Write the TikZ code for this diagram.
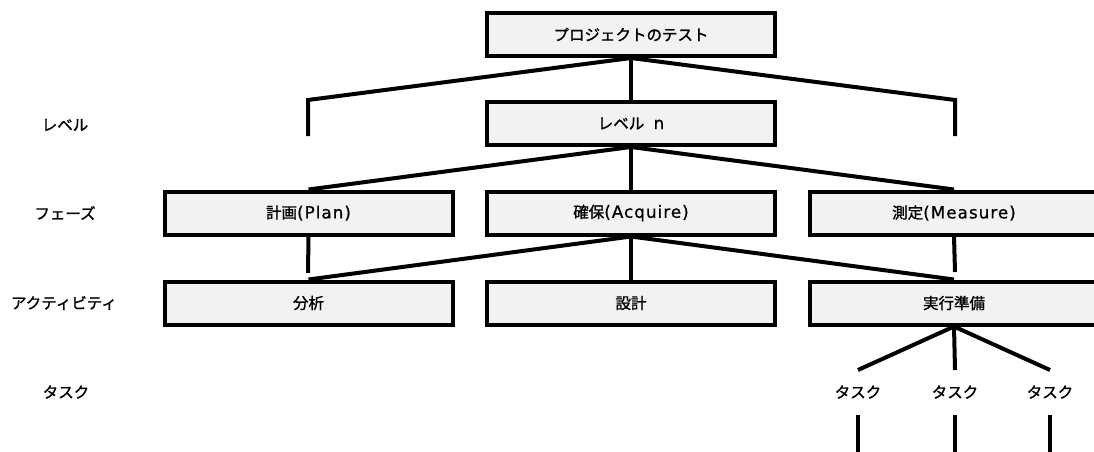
\documentclass[tikz,border=0pt]{standalone}
\usepackage{fontspec}
\setmainfont{Noto Sans CJK JP}[RawFeature={embolden=1.3}]
\newfontfamily\latf{DejaVu Sans}[LetterSpace=6,RawFeature={embolden=0.8}]
\newcommand\lt[1]{{\latf\fontsize{16.8}{18}\selectfont #1}}
\definecolor{boxgray}{HTML}{F2F2F2}
\begin{document}
\begin{tikzpicture}[x=1pt,y=-1pt,
  box/.style={draw=black, line width=4pt, fill=boxgray, minimum width=288pt, minimum height=43pt, inner sep=0pt, font=\fontsize{15.5}{18}\selectfont},
  lbl/.style={inner sep=0pt, font=\fontsize{15.5}{18}\selectfont},
  conn/.style={draw=black, line width=4pt}]
\path[use as bounding box, clip] (0,0) rectangle (1094,452);
\fill[white] (0,0) rectangle (1094,452);

% row labels
\node[lbl] (rLevel) at (65,125) {レベル};
\node[lbl] (rPhase) at (65,213) {フェーズ};
\node[lbl] (rAct) at (64,303) {アクティビティ};
\node[lbl] (rTask) at (66,392) {タスク};

% free-end coordinates
\coordinate (lvL) at (308,100);
\coordinate (lvLe) at (308,136);
\coordinate (lvR) at (955,100);
\coordinate (lvRe) at (955,136);
\coordinate (planEnd) at (308,273);
\coordinate (measEnd) at (955,272);
\coordinate (t1a) at (858,370);
\coordinate (t2a) at (955,370);
\coordinate (t3a) at (1050,370);
\coordinate (t1b) at (858,415);
\coordinate (t2b) at (955,415);
\coordinate (t3b) at (1050,415);
\coordinate (t1c) at (858,460);
\coordinate (t2c) at (955,460);
\coordinate (t3c) at (1050,460);

% boxes
\node[box] (top) at (631,34.5) {プロジェクトのテスト};
\node[box] (lev) at (631,123.5) {レベル\hspace{0.6em}\lt{n}};
\node[box] (plan) at (308.5,213) {計画\lt{(Plan)}};
\node[box] (acq) at (631,213) {確保\lt{(Acquire)}};
\node[box] (meas) at (954,213) {測定\lt{(Measure)}};
\node[box] (ana) at (308.5,303) {分析};
\node[box] (des) at (631,303) {設計};
\node[box] (prep) at (954,303) {実行準備};

% task labels
\node[lbl] (t1) at (858,392) {タスク};
\node[lbl] (t2) at (955,392) {タスク};
\node[lbl] (t3) at (1050,392) {タスク};

% connectors
\draw[conn] (top.south) -- (lev.north);
\draw[conn] (top.south) -- (lvL) -- (lvLe);
\draw[conn] (top.south) -- (lvR) -- (lvRe);
\draw[conn] (lev.south) -- (plan.north);
\draw[conn] (lev.south) -- (acq.north);
\draw[conn] (lev.south) -- (meas.north);
\draw[conn] (plan.south) -- (planEnd);
\draw[conn] (acq.south) -- (ana.north);
\draw[conn] (acq.south) -- (des.north);
\draw[conn] (acq.south) -- (prep.north);
\draw[conn] (meas.south) -- (measEnd);
\draw[conn] (prep.south) -- (t1a);
\draw[conn] (prep.south) -- (t2a);
\draw[conn] (prep.south) -- (t3a);
\draw[conn] (t1b) -- (t1c);
\draw[conn] (t2b) -- (t2c);
\draw[conn] (t3b) -- (t3c);

% redraw boxes on top so connectors meet the borders cleanly
\node[box] at (top.center) {プロジェクトのテスト};
\node[box] at (lev.center) {レベル\hspace{0.6em}\lt{n}};
\node[box] at (plan.center) {計画\lt{(Plan)}};
\node[box] at (acq.center) {確保\lt{(Acquire)}};
\node[box] at (meas.center) {測定\lt{(Measure)}};
\node[box] at (ana.center) {分析};
\node[box] at (des.center) {設計};
\node[box] at (prep.center) {実行準備};
\end{tikzpicture}
\end{document}
